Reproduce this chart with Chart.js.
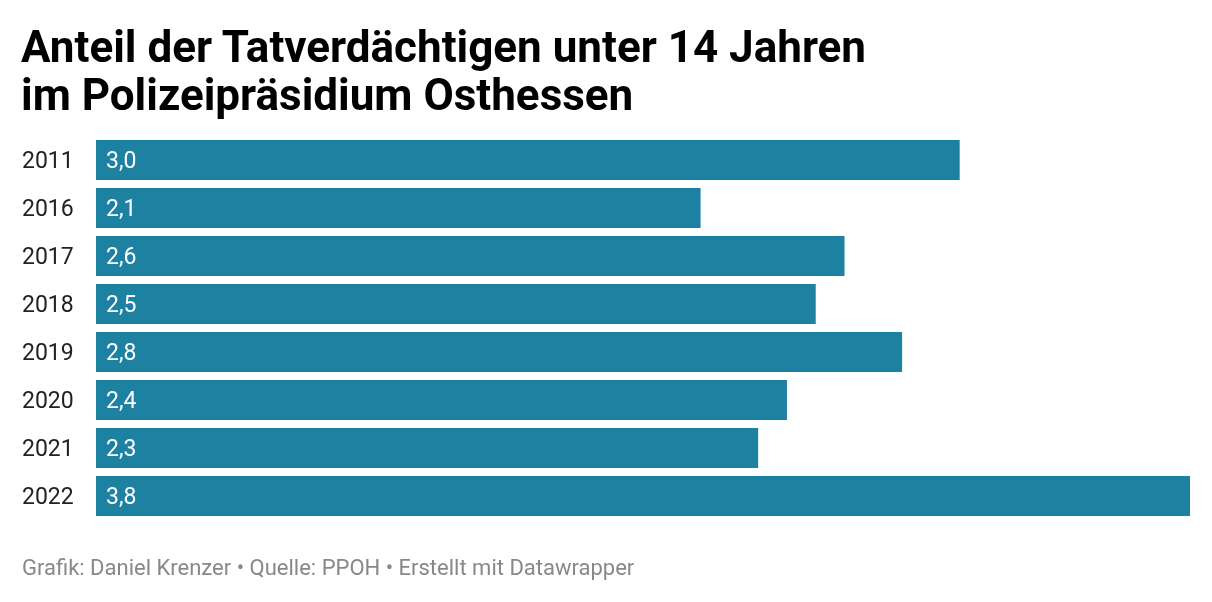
<!DOCTYPE html>
<html><head><meta charset="utf-8">
<script src="https://cdn.jsdelivr.net/npm/chart.js@4"></script>
<style>
html,body{margin:0;padding:0;background:#fff;width:1212px;height:602px;overflow:hidden;font-family:Roboto,sans-serif;}
#title{position:absolute;left:21px;top:23px;font-weight:700;font-size:44px;line-height:48px;color:#000;white-space:nowrap;}
#foot{position:absolute;left:22px;top:557px;font-size:22px;line-height:22px;color:#888;white-space:nowrap;}
#wrap{position:absolute;left:0;top:0;width:1212px;height:602px;}
</style></head><body>
<div id="wrap"><canvas id="c"></canvas></div>
<div id="title">Anteil der Tatverdächtigen unter 14 Jahren<br>im Polizeipräsidium Osthessen</div>
<div id="foot">Grafik: Daniel Krenzer • Quelle: PPOH • Erstellt mit Datawrapper</div>
<script>
const categories = ["2011","2016","2017","2018","2019","2020","2021","2022"];
const values = [3.0,2.1,2.6,2.5,2.8,2.4,2.3,3.8];
const valueLabels = ["3,0","2,1","2,6","2,5","2,8","2,4","2,3","3,8"];

const labelPlugin = {
  id:'vals',
  afterDatasetsDraw(chart){
    const ctx = chart.ctx;
    const meta = chart.getDatasetMeta(0);
    const ys = chart.scales.y;
    ctx.save();
    ctx.font = '23px Roboto';
    ctx.textBaseline = 'middle';
    ctx.textAlign = 'left';
    chart.data.labels.forEach((lab,i)=>{
      ctx.fillStyle = '#222';
      ctx.fillText(lab, ys.left, ys.getPixelForValue(i) + 2);
    });
    ctx.fillStyle = '#fff';
    meta.data.forEach((bar,i)=>{
      ctx.fillText(valueLabels[i], bar.base + 10, bar.y + 2);
    });
    ctx.restore();
  }
};

new Chart(document.getElementById('c'),{
  type:'bar',
  data:{labels:categories,datasets:[{data:values,backgroundColor:'#1d81a2',borderWidth:0,categoryPercentage:1,barPercentage:40/48}]},
  options:{
    indexAxis:'y',
    responsive:true,maintainAspectRatio:false,animation:false,
    layout:{padding:{top:136,bottom:82,left:22,right:22}},
    plugins:{legend:{display:false},tooltip:{enabled:false}},
    scales:{
      x:{display:false,min:0,max:3.8},
      y:{
        grid:{display:false},border:{display:false},
        afterFit(s){s.width=74;},
        ticks:{display:false}
      }
    }
  },
  plugins:[labelPlugin]
});
</script>
</body></html>
